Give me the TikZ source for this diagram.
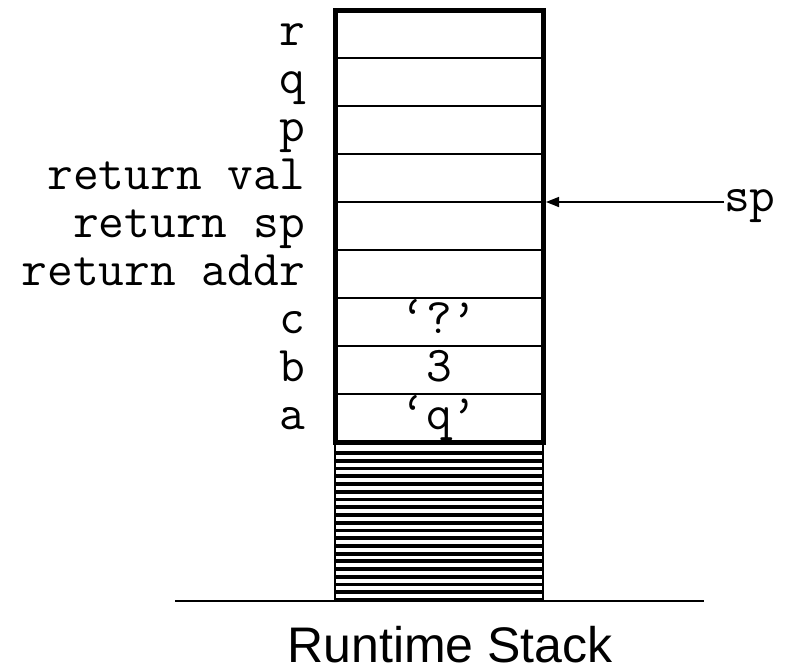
\documentclass[tikz,border=0pt]{standalone}
\usepackage{fontspec}
\setmainfont{Liberation Sans}
\usetikzlibrary{arrows.meta}

\begin{document}
\begin{tikzpicture}[x=1pt, y=-1pt,
    lbl/.style={font=\ttfamily\fontsize{50}{50}\selectfont, anchor=base east, inner sep=0pt},
    cellval/.style={font=\ttfamily\fontsize{50}{50}\selectfont, anchor=base, inner sep=0pt}]
    \useasboundingbox (0,0) rectangle (787,667);
    % striped part under the frame
    \foreach \k in {0,...,19}
        \draw[line width=3.8pt] (335, 453+\k*7.74) -- (543, 453+\k*7.74);
    \draw[line width=2pt] (335, 442) -- (335, 601);
    \draw[line width=2pt] (543, 442) -- (543, 601);
    \draw[line width=2pt] (175, 601) -- (704, 601);
    % frame cells
    \foreach \k in {1,...,8}
        \draw[line width=2pt] (335, 10+\k*48) -- (543, 10+\k*48);
    \draw[line width=5pt] (335, 10) rectangle (543, 442);
    \node[lbl] (r) at (305, 45) {r};
    \node[lbl] (q) at (305, 93) {q};
    \node[lbl] (p) at (305, 141) {p};
    \node[lbl] (retval) at (305, 189) {return val};
    \node[lbl] (retsp) at (305, 237) {return sp};
    \node[lbl] (retaddr) at (305, 285) {return addr};
    \node[lbl] (c) at (305, 333) {c};
    \node[lbl] (b) at (305, 381) {b};
    \node[lbl] (a) at (305, 429) {a};
    \node[cellval] (cval) at (439, 333) {‘?’};
    \node[cellval] (bval) at (439, 381) {3};
    \node[cellval] (aval) at (439, 429) {‘q’};
    % stack pointer
    \coordinate (sptip) at (546, 202);
    \node[lbl, anchor=base west] (sp) at (724, 211) {sp};
    \draw[line width=1.5pt, -{Triangle[length=13pt, width=10pt]}] (sp.west |- sptip) -- (sptip);
    \node[font=\fontsize{50}{50}\selectfont, anchor=base, inner sep=0pt] (title) at (450, 662) {Runtime Stack};
\end{tikzpicture}
\end{document}
